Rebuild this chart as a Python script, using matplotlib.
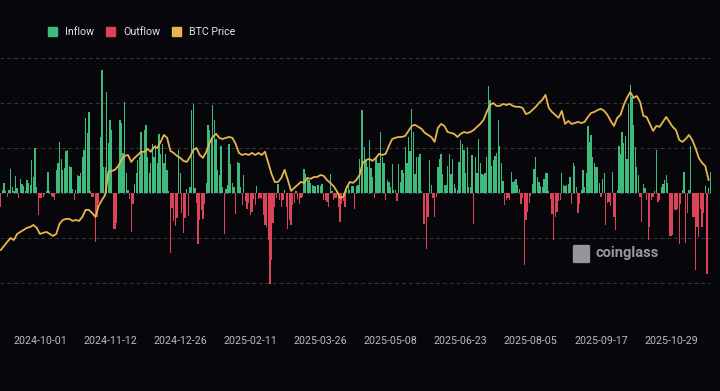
import numpy as np
import matplotlib
matplotlib.use('Agg')
import matplotlib.pyplot as plt
from matplotlib.patches import Patch, FancyBboxPatch

# etiquetas del eje x (eje de categorias, una cada 43 barras)
fechas = ['2024-10-01', '2024-11-12', '2024-12-26', '2025-02-11', '2025-03-26',
          '2025-05-08', '2025-06-23', '2025-08-05', '2025-09-17', '2025-10-29']
pos_fechas = [24, 67, 110, 153, 196, 239, 282, 325, 368, 411]

# flujo neto diario (positivo = inflow, negativo = outflow)
flujo_neto = [
    -140, 30, 100, 20, -40, 30, 240, 60, 20, 170,
    50, -50, 140, 90, 70, 20, 130, 100, 80, 330,
    160, 450, 60, -220, -50, -50, -40, -20, 20, 210,
    20, -30, -40, -70, 230, 300, 510, 340, 230, 250,
    420, 430, 270, 260, 40, -70, 30, 180, 170, 200,
    360, 430, 750, 600, 810, 20, -40, -40, -490, -240,
    -100, 560, 1230, 260, 260, 1010, 500, 730, 630, -360,
    -360, -300, 260, 730, 700, 400, 910, 200, 30, -60,
    -390, -110, 90, 200, 330, 360, 610, 400, 630, 680,
    360, 200, 300, 490, 360, 480, 300, 590, 390, 490,
    300, 390, 230, 20, -600, -150, -280, -330, -250, 430,
    200, -200, -400, -250, 40, -230, 60, 830, 890, 50,
    -100, -510, -270, -170, -260, -110, 100, 680, 630, 560,
    880, 730, 540, 230, 180, 470, 60, -410, 40, 80,
    490, 290, 100, 60, -210, 310, 300, 60, -120, 180,
    -80, -160, -100, -220, -190, -60, -120, 70, -60, -50,
    -60, -220, -320, -340, -470, -910, -670, -300, -140, -50,
    90, -70, -140, -70, 30, -140, -360, -270, -320, -120,
    -100, 20, -60, -110, -50, -40, 240, 190, 160, 130,
    100, 80, 70, 70, 80, 80, 70, 90, -70, -70,
    -90, -140, 190, 20, -70, -50, -50, -140, -290, -110,
    -80, -140, 70, 80, 30, 70, 70, -160, 70, 80,
    340, 830, 830, 460, 330, 260, 530, 250, 160, -50,
    360, 300, 300, 610, 360, 300, -70, 130, 110, 60,
    290, 30, 30, -80, 290, 110, 230, 200, 460, 300,
    560, 420, 840, 610, 190, 360, 360, 390, 20, -310,
    -310, -560, -240, 330, 80, -50, -240, -40, 260, 340,
    390, 190, 80, 80, 270, 390, 190, 340, 90, 50,
    30, 310, 530, 490, 430, 200, 460, 60, 60, 380,
    -310, 360, 200, 540, 300, 190, 180, 200, 360, 1070,
    930, 270, 330, 370, 400, 730, 470, 300, 120, -120,
    -70, -50, -70, 210, 110, 120, 140, 80, 40, -110,
    -50, -720, -270, -190, -100, -30, 90, 240, 360, 160,
    110, 70, 60, 140, 200, 200, 20, -60, -210, -470,
    -240, -190, -80, -70, 200, 80, 70, 80, 90, 160,
    -110, 300, 270, 60, -200, -110, 30, 230, 60, 200,
    670, 510, 580, 360, 300, 260, 260, 100, -40, 140,
    200, -320, -100, -90, -130, 210, -240, -370, 30, 470,
    390, 610, 500, 570, 340, 890, 1080, 960, 680, 460,
    260, 180, -40, -290, 90, 50, -70, -470, -340, -70,
    -40, 20, 430, -90, -70, 60, 90, 130, 180, 100,
    -430, -430, -420, -170, -170, -160, -510, -110, 30, 210,
    -500, -200, 30, 470, -240, -240, -770, -340, -440, -160,
    -340, -200, 70, -810, 50, 210,
]

# precio BTC (USD), un punto cada 2 barras
precio_btc = [
    54000, 55800, 57600, 59300, 58400, 61100, 62000, 62900, 63800, 64200,
    65100, 63800, 61100, 61600, 62000, 61100, 60200, 61100, 65600, 67300,
    67800, 67800, 66900, 67300, 66900, 68700, 71800, 71800, 70400, 68700,
    73600, 76200, 78400, 88700, 89100, 89600, 91300, 94000, 95800, 96200,
    93100, 94900, 96200, 97600, 97600, 98900, 97600, 99800, 99300, 102000,
    105100, 103800, 98000, 97100, 95800, 94900, 93600, 93100, 95300, 98400,
    99300, 96200, 94900, 97600, 101600, 104200, 105600, 103800, 103300, 103800,
    104200, 103800, 101100, 97100, 96200, 96700, 96200, 97100, 96200, 97100,
    96200, 97600, 92700, 87800, 84200, 84200, 86000, 89600, 85100, 80200,
    81600, 82900, 84200, 83800, 86000, 85600, 86400, 86400, 87300, 86900,
    85100, 83800, 82400, 80200, 77100, 77600, 81600, 84200, 83800, 85100,
    87300, 92700, 94000, 94400, 93600, 94900, 96700, 96200, 96700, 100200,
    103300, 103800, 104200, 104200, 104700, 106900, 109100, 109600, 108700, 107800,
    106000, 105100, 104200, 102000, 108200, 110000, 109100, 106400, 106000, 105600,
    104200, 105600, 106400, 106000, 106400, 107300, 108700, 110000, 111800, 115300,
    118400, 119300, 118000, 118000, 118900, 118400, 118900, 118000, 117600, 117600,
    117100, 114400, 114900, 116200, 117600, 119300, 120700, 122900, 117100, 115300,
    114000, 112700, 115800, 110000, 111300, 110000, 110400, 110900, 110400, 110900,
    113100, 114900, 115300, 116200, 116700, 115800, 114000, 111300, 109100, 112700,
    114000, 118400, 121600, 124200, 121600, 122400, 119800, 113600, 113100, 110000,
    106900, 109100, 108700, 110900, 113100, 110900, 108700, 107300, 102900, 102000,
    103300, 105100, 102900, 99300, 94900, 92700, 91300, 85100,
]

fondo = '#07070b'
verde = '#3dba7c'
rojo = '#dc4358'
amarillo = '#e6b54c'

flujo = np.array(flujo_neto)
x = np.arange(len(flujo))
entrada = np.where(flujo > 0, flujo, 0)
salida = np.where(flujo < 0, flujo, 0)

fig = plt.figure(figsize=(7.2, 3.91), dpi=100, facecolor=fondo)
ax = fig.add_axes([0, 0.1611, 0.9875, 0.6906])
ax.set_facecolor(fondo)

# barras de entrada / salida
ax.bar(x, entrada, width=0.8, color=verde, linewidth=0)
ax.bar(x, salida, width=0.8, color=rojo, linewidth=0)
ax.set_xlim(-0.5, len(flujo) - 0.5)
ax.set_ylim(-1350, 1350)
ax.set_yticks(np.arange(-1350, 1351, 450))
ax.grid(axis='y', color='#38383e', linestyle=(0, (4, 3)), linewidth=0.7)
ax.set_axisbelow(True)
ax.tick_params(axis='y', left=False, labelleft=False)
ax.set_xticks(pos_fechas)
ax.set_xticklabels(fechas, fontsize=7.7, color='#bcbcc0', family='Roboto')
ax.tick_params(axis='x', length=0, pad=6)
for s in ax.spines.values():
    s.set_visible(False)

# linea de precio en eje secundario
ax2 = ax.twinx()
ax2.plot(np.arange(len(precio_btc)) * 2, precio_btc, color=amarillo, linewidth=1.3)
ax2.set_ylim(19300, 139300)
ax2.axis('off')

# leyenda
handles = [Patch(color=verde, label='Inflow'),
           Patch(color=rojo, label='Outflow'),
           Patch(color=amarillo, label='BTC Price')]
fig.legend(handles=handles, loc='center left', bbox_to_anchor=(0.061, 0.918),
           ncol=3, frameon=False, labelcolor='#e4e4e8',
           prop={'family': 'Roboto', 'size': 7.7},
           handlelength=0.85, handleheight=0.85, handletextpad=0.75,
           columnspacing=1.1, borderaxespad=0)

# marca de agua
fig.patches.append(FancyBboxPatch((575 / 720, 1 - 262 / 391), 13 / 720, 16 / 391,
                                  boxstyle='round,pad=0.003', transform=fig.transFigure,
                                  color='#96969a', linewidth=0))
fig.text(595 / 720, 1 - 253 / 391, 'coinglass', fontsize=10.5, fontweight='bold',
         color='#9a9a9e', family='Roboto', va='center', ha='left')

fig.savefig('out.png', dpi=100, facecolor=fondo)
